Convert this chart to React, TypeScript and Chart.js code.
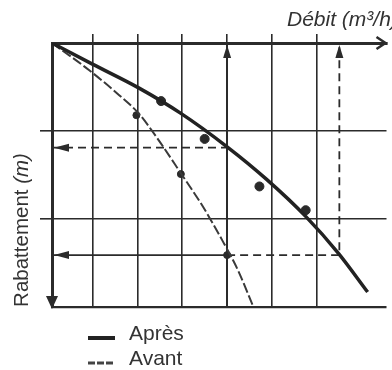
import React, { useEffect, useRef } from "react";
import { Chart, registerables } from "chart.js";

Chart.register(...registerables);

// ---------- data ----------
const X_TITLE = "Débit (m³/h)";
const Y_TITLE_MAIN = "Rabattement";
const Y_TITLE_UNIT = " (m)";
const SERIES_NAMES = ["Après", "Avant"];

const X_MIN = 0.1;
const X_MAX = 7.55;
const Y_MIN = 0;
const Y_MAX = 3;

// Après (after) — fitted curve and measured points
const APRES_CURVE_X = [0.1, 1.0, 2.03, 2.97, 4.0, 4.88, 5.75, 6.48, 7.13];
const APRES_CURVE_Y = [0, 0.24, 0.51, 0.8, 1.18, 1.55, 1.97, 2.39, 2.83];
const APRES_PTS_X = [2.53, 3.5, 4.72, 5.75];
const APRES_PTS_Y = [0.66, 1.09, 1.63, 1.9];

// Avant (before) — fitted curve and measured points
const AVANT_CURVE_X = [0.1, 0.93, 1.59, 2.03, 2.47, 2.97, 3.45, 3.89, 4.24, 4.57];
const AVANT_CURVE_Y = [0, 0.31, 0.59, 0.8, 1.1, 1.48, 1.85, 2.24, 2.58, 2.98];
const AVANT_PTS_X = [1.98, 2.97, 4.0];
const AVANT_PTS_Y = [0.82, 1.49, 2.41];

// reading lines (débit, rabattement)
const READ_Q = [4.0, 6.5];
const READ_S = [1.19, 2.41];

const INK = "#2b2b2b";

const xy = (xs: number[], ys: number[]) => xs.map((x, i) => ({ x, y: ys[i] }));

function arrowHead(
  ctx: CanvasRenderingContext2D,
  x: number,
  y: number,
  dir: "left" | "right" | "up" | "down",
  len: number,
  half: number,
  filled: boolean
) {
  const v = { left: [-1, 0], right: [1, 0], up: [0, -1], down: [0, 1] }[dir];
  const bx = x - v[0] * len;
  const by = y - v[1] * len;
  const px = -v[1] * half;
  const py = v[0] * half;
  ctx.beginPath();
  ctx.moveTo(bx + px, by + py);
  ctx.lineTo(x, y);
  ctx.lineTo(bx - px, by - py);
  if (filled) {
    ctx.closePath();
    ctx.fill();
  } else {
    ctx.stroke();
  }
}

const decorPlugin = {
  id: "decor",
  afterDatasetsDraw(chart: any) {
    const { ctx } = chart;
    const xs = chart.scales.x;
    const ys = chart.scales.y;
    const px = (v: number) => xs.getPixelForValue(v);
    const py = (v: number) => ys.getPixelForValue(v);
    ctx.save();
    ctx.fillStyle = INK;
    ctx.strokeStyle = INK;
    ctx.lineWidth = 2.5;
    ctx.setLineDash([]);
    // axis arrows
    arrowHead(ctx, px(X_MAX) - 1, py(Y_MIN), "right", 9, 6, false);
    arrowHead(ctx, px(X_MIN), py(Y_MAX) + 2, "down", 13, 6, true);
    // reading arrows
    arrowHead(ctx, px(X_MIN) + 2, py(READ_S[0]), "left", 15, 4, true);
    arrowHead(ctx, px(X_MIN) + 2, py(READ_S[1]), "left", 15, 4, true);
    arrowHead(ctx, px(READ_Q[0]), py(Y_MIN) + 2, "up", 13, 4, true);
    arrowHead(ctx, px(READ_Q[1]), py(Y_MIN) + 2, "up", 13, 4, true);
    ctx.restore();
  },
  afterDraw(chart: any) {
    const { ctx } = chart;
    ctx.save();
    ctx.fillStyle = "#333";
    ctx.textBaseline = "alphabetic";
    // x title
    ctx.font = "italic 21px 'Liberation Sans', sans-serif";
    ctx.textAlign = "left";
    ctx.fillText(X_TITLE, 287, 26);
    // y title
    ctx.translate(28, 230);
    ctx.rotate(-Math.PI / 2);
    const f1 = "20.5px 'Liberation Sans', sans-serif";
    const f2 = "italic 20.5px 'Liberation Sans', sans-serif";
    ctx.font = f1;
    const w1 = ctx.measureText(Y_TITLE_MAIN).width;
    ctx.font = f2;
    const w2 = ctx.measureText(Y_TITLE_UNIT).width;
    const start = -(w1 + w2) / 2;
    ctx.font = f1;
    ctx.fillText(Y_TITLE_MAIN, start, 0);
    ctx.font = f2;
    ctx.fillText(Y_TITLE_UNIT, start + w1, 0);
    ctx.restore();

    // legend
    ctx.save();
    ctx.font = "21px 'Liberation Sans', sans-serif";
    ctx.fillStyle = "#333";
    ctx.textAlign = "left";
    ctx.textBaseline = "middle";
    const rows = [334, 359];
    SERIES_NAMES.forEach((name, i) => {
      const y = rows[i];
      ctx.strokeStyle = i === 0 ? "#222" : "#444";
      ctx.lineWidth = i === 0 ? 4 : 3;
      ctx.setLineDash(i === 0 ? [] : [7, 2]);
      ctx.beginPath();
      ctx.moveTo(88, y + 4);
      ctx.lineTo(115, y + 4);
      ctx.stroke();
      ctx.fillText(name, 129, y);
    });
    ctx.restore();
  },
};

export default function App() {
  const ref = useRef<HTMLCanvasElement | null>(null);
  useEffect(() => {
    if (!ref.current) return;
    const intOnly = (scale: any) => {
      scale.ticks = scale.ticks.filter(
        (t: any) => Math.abs(t.value - Math.round(t.value)) < 1e-6 && t.value > 0.5
      );
    };
    const chart = new Chart(ref.current, {
      type: "scatter",
      data: {
        datasets: [
          {
            label: SERIES_NAMES[0],
            data: xy(APRES_CURVE_X, APRES_CURVE_Y),
            showLine: true,
            borderColor: "#222",
            borderWidth: 3.5,
            pointRadius: 0,
            cubicInterpolationMode: "monotone",
          },
          {
            label: SERIES_NAMES[1],
            data: xy(AVANT_CURVE_X, AVANT_CURVE_Y),
            showLine: true,
            borderColor: "#3a3a3a",
            borderWidth: 2,
            borderDash: [10, 3],
            pointRadius: 0,
            cubicInterpolationMode: "monotone",
          },
          {
            label: SERIES_NAMES[0] + " mesures",
            data: xy(APRES_PTS_X, APRES_PTS_Y),
            showLine: false,
            pointRadius: 4.5,
            backgroundColor: "#2a2a2a",
            borderColor: "#2a2a2a",
          },
          {
            label: SERIES_NAMES[1] + " mesures",
            data: xy(AVANT_PTS_X, AVANT_PTS_Y),
            showLine: false,
            pointRadius: 3.5,
            backgroundColor: "#2a2a2a",
            borderColor: "#2a2a2a",
          },
          {
            label: "lecture 1",
            data: [
              { x: X_MIN, y: READ_S[0] },
              { x: READ_Q[0], y: READ_S[0] },
            ],
            showLine: true,
            borderColor: INK,
            borderWidth: 1.8,
            borderDash: [8, 5],
            pointRadius: 0,
          },
          {
            label: "lecture 2",
            data: [
              { x: X_MIN, y: READ_S[1] },
              { x: READ_Q[0], y: READ_S[1] },
            ],
            showLine: true,
            borderColor: INK,
            borderWidth: 1.8,
            pointRadius: 0,
          },
          {
            label: "lecture 3",
            data: [
              { x: READ_Q[0], y: READ_S[1] },
              { x: READ_Q[1], y: READ_S[1] },
              { x: READ_Q[1], y: Y_MIN },
            ],
            showLine: true,
            borderColor: INK,
            borderWidth: 1.8,
            borderDash: [8, 5],
            pointRadius: 0,
          },
          {
            label: "lecture 4",
            data: [
              { x: READ_Q[0], y: Y_MAX },
              { x: READ_Q[0], y: Y_MIN },
            ],
            showLine: true,
            borderColor: INK,
            borderWidth: 1.8,
            pointRadius: 0,
          },
        ],
      },
      options: {
        responsive: false,
        animation: false,
        events: [],
        layout: { padding: { left: 40, top: 34, right: 0, bottom: 63 } },
        plugins: { legend: { display: false }, tooltip: { enabled: false } },
        scales: {
          x: {
            type: "linear",
            position: "top",
            min: X_MIN,
            max: X_MAX,
            afterBuildTicks: intOnly,
            ticks: { display: false, stepSize: 1 },
            grid: {
              color: INK,
              lineWidth: 1.6,
              drawTicks: true,
              tickLength: 9,
              tickColor: INK,
              tickWidth: 1.6,
            },
            border: { display: true, color: INK, width: 3 },
          },
          y: {
            type: "linear",
            position: "left",
            reverse: true,
            min: Y_MIN,
            max: Y_MAX,
            ticks: { display: false, stepSize: 1 },
            grid: {
              color: INK,
              lineWidth: (c: any) => (c.tick && c.tick.value === Y_MAX ? 2.2 : 1.6),
              drawTicks: true,
              tickLength: 12,
              tickColor: (c: any) =>
                c.tick && c.tick.value > Y_MIN && c.tick.value < Y_MAX ? INK : "rgba(0,0,0,0)",
              tickWidth: 1.6,
            },
            border: { display: true, color: INK, width: 3 },
          },
        },
      },
      plugins: [decorPlugin],
    } as any);
    return () => chart.destroy();
  }, []);
  return (
    <div style={{ position: "fixed", left: 0, top: 0, width: 392, height: 370, background: "#fff" }}>
      <canvas ref={ref} width={392} height={370} style={{ display: "block" }} />
    </div>
  );
}
